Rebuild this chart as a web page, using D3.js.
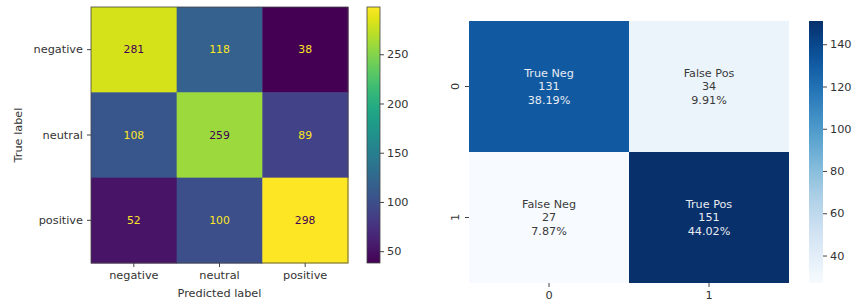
<!DOCTYPE html>
<html>
<head>
<meta charset="utf-8">
<script src="https://cdn.jsdelivr.net/npm/d3@7"></script>
<style>
  body { margin: 0; background: #fff; }
  text { font-family: "DejaVu Sans", sans-serif; }
</style>
</head>
<body>
<div id="viz"></div>
<script>
// data
var classes = ["negative", "neutral", "positive"];
var cmValues = [
  [281, 118, 38],
  [108, 259, 89],
  [52, 100, 298]
];
var cbarTicksLeft = [50, 100, 150, 200, 250];

var binLabels = ["0", "1"];
var binNames = [["True Neg", "False Pos"], ["False Neg", "True Pos"]];
var binValues = [[131, 34], [27, 151]];
var binPercents = ["38.19%", "9.91%", "7.87%", "44.02%"];
var cbarTicksRight = [40, 60, 80, 100, 120, 140];

var W = 852, H = 308;
var svg = d3.select("#viz").append("svg")
  .attr("width", W).attr("height", H);

var textDark = "#333";
var labelSize = 11.3;

function styleAxis(a) {
  a.select(".domain").remove();
  a.selectAll("line").attr("stroke", "#444");
  a.selectAll("text").attr("font-size", labelSize).attr("fill", textDark)
    .style("font-family", "DejaVu Sans, sans-serif");
}

// ---------- left: confusion matrix (viridis) ----------
var L = {x0: 91, x1: 348, y0: 7, y1: 263};
var flatL = cmValues.flat();
var vminL = d3.min(flatL), vmaxL = d3.max(flatL);
var colorL = d3.scaleSequential(d3.interpolateViridis).domain([vminL, vmaxL]);

var xL = d3.scaleBand().domain(classes).range([L.x0, L.x1]);
var yL = d3.scaleBand().domain(classes).range([L.y0, L.y1]);

var cellsL = [];
cmValues.forEach(function(row, i) {
  row.forEach(function(v, j) { cellsL.push({r: classes[i], c: classes[j], v: v}); });
});

var gL = svg.append("g");
gL.selectAll("rect.cell").data(cellsL).enter().append("rect")
  .attr("x", function(d) { return xL(d.c); })
  .attr("y", function(d) { return yL(d.r); })
  .attr("width", xL.bandwidth() + 0.5)
  .attr("height", yL.bandwidth() + 0.5)
  .attr("fill", function(d) { return colorL(d.v); });

var threshL = (vminL + vmaxL) / 2;
gL.selectAll("text.val").data(cellsL).enter().append("text")
  .attr("x", function(d) { return xL(d.c) + xL.bandwidth() / 2; })
  .attr("y", function(d) { return yL(d.r) + yL.bandwidth() / 2; })
  .attr("dy", "0.35em")
  .attr("text-anchor", "middle")
  .attr("font-size", 10.8)
  .attr("fill", function(d) { return d.v < threshL ? colorL(vmaxL) : colorL(vminL); })
  .text(function(d) { return d.v; });

gL.append("rect")
  .attr("x", L.x0).attr("y", L.y0)
  .attr("width", L.x1 - L.x0).attr("height", L.y1 - L.y0)
  .attr("fill", "none").attr("stroke", "#444").attr("stroke-width", 0.8);

styleAxis(gL.append("g").attr("transform", "translate(0," + L.y1 + ")")
  .call(d3.axisBottom(xL).tickSize(4).tickPadding(4)));
styleAxis(gL.append("g").attr("transform", "translate(" + L.x0 + ",0)")
  .call(d3.axisLeft(yL).tickSize(4).tickPadding(4)));

gL.append("text")
  .attr("x", (L.x0 + L.x1) / 2).attr("y", 297)
  .attr("text-anchor", "middle").attr("font-size", labelSize).attr("fill", textDark)
  .text("Predicted label");
gL.append("text")
  .attr("transform", "translate(22," + (L.y0 + L.y1) / 2 + ") rotate(-90)")
  .attr("text-anchor", "middle").attr("font-size", labelSize).attr("fill", textDark)
  .text("True label");

// colorbar gradients
var defs = svg.append("defs");
function addGradient(id, interp) {
  var g = defs.append("linearGradient").attr("id", id)
    .attr("x1", 0).attr("y1", 1).attr("x2", 0).attr("y2", 0);
  d3.range(0, 1.0001, 0.05).forEach(function(t) {
    g.append("stop").attr("offset", t).attr("stop-color", interp(t));
  });
}
addGradient("gradViridis", d3.interpolateViridis);
addGradient("gradBlues", d3.interpolateBlues);

// colorbar left
var CL = {x0: 367, x1: 380, y0: 7, y1: 263};
svg.append("rect")
  .attr("x", CL.x0).attr("y", CL.y0)
  .attr("width", CL.x1 - CL.x0).attr("height", CL.y1 - CL.y0)
  .attr("fill", "url(#gradViridis)")
  .attr("stroke", "#444").attr("stroke-width", 0.8);
var cyL = d3.scaleLinear().domain([vminL, vmaxL]).range([CL.y1, CL.y0]);
styleAxis(svg.append("g").attr("transform", "translate(" + CL.x1 + ",0)")
  .call(d3.axisRight(cyL).tickValues(cbarTicksLeft).tickSize(4).tickPadding(3)));

// ---------- right: seaborn-style heatmap (Blues) ----------
var R = {x0: 469, x1: 789, y0: 21, y1: 283};
var flatR = binValues.flat();
var vminR = d3.min(flatR), vmaxR = d3.max(flatR);
var colorR = d3.scaleSequential(d3.interpolateBlues).domain([vminR, vmaxR]);

var xR = d3.scaleBand().domain(binLabels).range([R.x0, R.x1]);
var yR = d3.scaleBand().domain(binLabels).range([R.y0, R.y1]);

var cellsR = [];
binValues.forEach(function(row, i) {
  row.forEach(function(v, j) {
    cellsR.push({r: binLabels[i], c: binLabels[j], v: v,
      lines: [binNames[i][j], String(v), binPercents[i * 2 + j]]});
  });
});

var gR = svg.append("g");
gR.selectAll("rect.cell").data(cellsR).enter().append("rect")
  .attr("x", function(d) { return xR(d.c); })
  .attr("y", function(d) { return yR(d.r); })
  .attr("width", xR.bandwidth())
  .attr("height", yR.bandwidth())
  .attr("fill", function(d) { return colorR(d.v); });

function isLight(c) {
  var rgb = d3.rgb(c);
  var ch = [rgb.r, rgb.g, rgb.b].map(function(x) {
    x = x / 255;
    return x <= 0.03928 ? x / 12.92 : Math.pow((x + 0.055) / 1.055, 2.4);
  });
  return 0.2126 * ch[0] + 0.7152 * ch[1] + 0.0722 * ch[2] > 0.408;
}

var annot = gR.selectAll("text.val").data(cellsR).enter().append("text")
  .attr("text-anchor", "middle")
  .attr("font-size", 11.2)
  .attr("fill", function(d) { return isLight(colorR(d.v)) ? "#3a3a3a" : "#e8ecf2"; });
annot.each(function(d) {
  var t = d3.select(this);
  var cx = xR(d.c) + xR.bandwidth() / 2;
  var cy = yR(d.r) + yR.bandwidth() / 2;
  d.lines.forEach(function(s, k) {
    t.append("tspan").attr("x", cx).attr("y", cy + (k - 1) * 13.8).attr("dy", "0.35em").text(s);
  });
});

styleAxis(gR.append("g").attr("transform", "translate(0," + R.y1 + ")")
  .call(d3.axisBottom(xR).tickSize(4).tickPadding(4)));
var axR_y = gR.append("g").attr("transform", "translate(" + R.x0 + ",0)")
  .call(d3.axisLeft(yR).tickSize(4).tickPadding(4));
styleAxis(axR_y);
axR_y.selectAll(".tick text")
  .attr("text-anchor", "middle")
  .attr("x", null)
  .attr("transform", "translate(-14,0) rotate(-90)")
  .attr("dy", "0.35em");

// colorbar right
var CR = {x0: 809, x1: 823, y0: 21, y1: 283};
svg.append("rect")
  .attr("x", CR.x0).attr("y", CR.y0)
  .attr("width", CR.x1 - CR.x0).attr("height", CR.y1 - CR.y0)
  .attr("fill", "url(#gradBlues)");
var cyR = d3.scaleLinear().domain([vminR, vmaxR]).range([CR.y1, CR.y0]);
styleAxis(svg.append("g").attr("transform", "translate(" + CR.x1 + ",0)")
  .call(d3.axisRight(cyR).tickValues(cbarTicksRight).tickSize(4).tickPadding(3)));
</script>
</body>
</html>
